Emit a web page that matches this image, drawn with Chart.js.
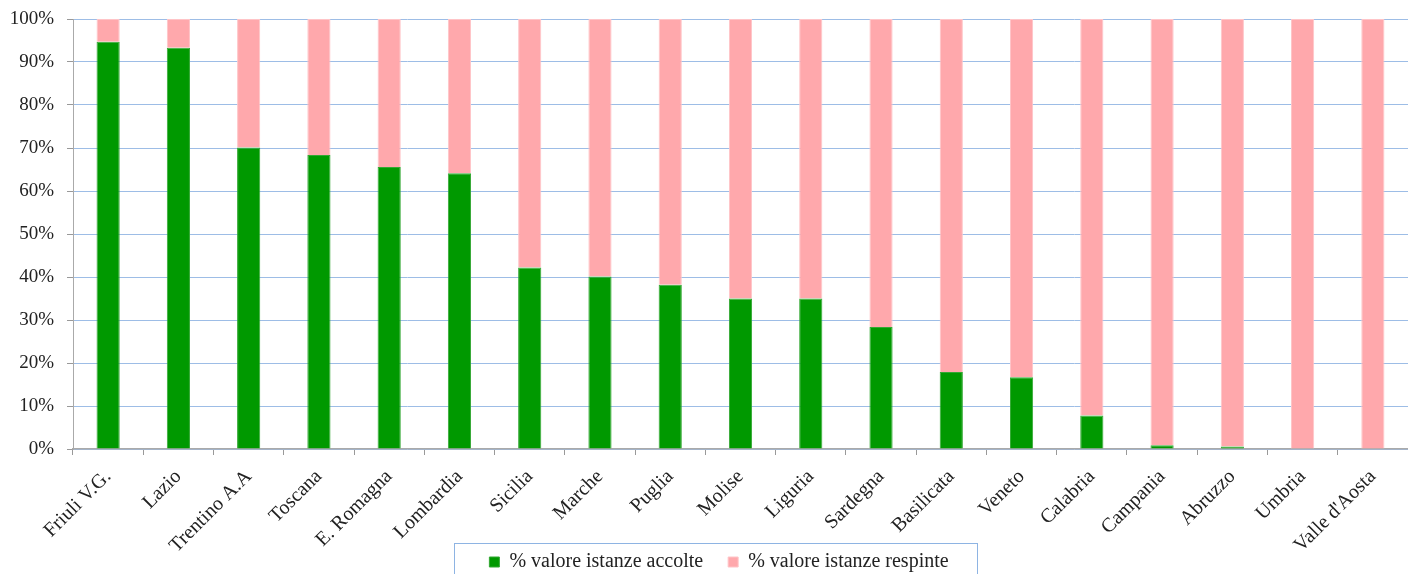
<!DOCTYPE html>
<html>
<head>
<meta charset="utf-8">
<script src="https://cdn.jsdelivr.net/npm/chart.js@4"></script>
<style>
  html, body { margin: 0; padding: 0; background: #fff; }
  #wrap { width: 1408px; height: 574px; }
</style>
</head>
<body>
<div id="wrap"><canvas id="chart" width="1408" height="574"></canvas></div>
<script>
const regioni = ['Friuli V.G.', 'Lazio', 'Trentino A.A', 'Toscana', 'E. Romagna', 'Lombardia',
  'Sicilia', 'Marche', 'Puglia', 'Molise', 'Liguria', 'Sardegna', 'Basilicata', 'Veneto',
  'Calabria', 'Campania', 'Abruzzo', 'Umbria', "Valle d'Aosta"]

const accolte  = [94.7, 93.3, 70.1, 68.4, 65.6, 64.1, 42.2, 40.1, 38.2, 35.0, 35.0, 28.4, 17.9, 16.7, 7.8, 0.9, 0.6, 0, 0]
const respinte = [5.3, 6.7, 29.9, 31.6, 34.4, 35.9, 57.8, 59.9, 61.8, 65.0, 65.0, 71.6, 82.1, 83.3, 92.2, 99.1, 99.4, 100, 100]

const serif = "'Liberation Serif', 'DejaVu Serif', serif"

// the rotated labels run down past the legend top, as in the original:
// let them draw to the bottom of the canvas and nudge the legend
const overlap = {
  id: 'overlap',
  afterLayout(chart) {
    const lg = chart.legend
    chart.scales.x.bottom = chart.height
    lg.top += 8
    lg.bottom += 8
    lg.left += 15
    lg.right += 15
  }
}

// box drawn around the legend entries
const legendBox = {
  id: 'legendBox',
  afterDraw(chart) {
    const boxes = chart.legend.legendHitBoxes
    if (!boxes || !boxes.length) return
    const left  = Math.min(...boxes.map(b => b.left)) - 35
    const right = Math.max(...boxes.map(b => b.left + b.width)) + 29
    const top   = boxes[0].top + boxes[0].height / 2 - 19
    const ctx = chart.ctx
    ctx.save()
    ctx.strokeStyle = '#8eb4e3'
    ctx.lineWidth = 1
    ctx.strokeRect(Math.round(left) + 0.5, Math.round(top) + 0.5, Math.round(right - left), 60)
    ctx.restore()
  }
}

new Chart(document.getElementById('chart'), {
  type: 'bar',
  data: {
    labels: regioni,
    datasets: [
      {
        label: '% valore istanze accolte',
        data: accolte,
        backgroundColor: '#009900',
        borderColor: '#33a833',
        borderWidth: 1,
        barPercentage: 0.33,
        categoryPercentage: 1
      },
      {
        label: '% valore istanze respinte',
        data: respinte,
        backgroundColor: '#ffa8ac',
        borderColor: '#ffc4c7',
        borderWidth: 1,
        barPercentage: 0.33,
        categoryPercentage: 1
      }
    ]
  },
  options: {
    responsive: false,
    animation: false,
    layout: { padding: { top: 19, right: 0, bottom: 0, left: 0 } },
    plugins: {
      tooltip: { enabled: false },
      legend: {
        position: 'bottom',
        labels: {
          font: { family: serif, size: 20 },
          color: '#222',
          boxWidth: 10,
          boxHeight: 10,
          padding: 25
        }
      }
    },
    scales: {
      x: {
        stacked: true,
        grid: {
          drawOnChartArea: false,
          drawTicks: true,
          tickLength: 6,
          tickColor: '#999',
          offset: true
        },
        border: { color: '#aaa', width: 1.5 },
        ticks: {
          font: { family: serif, size: 20 },
          color: '#222',
          maxRotation: 45,
          minRotation: 45,
          autoSkip: false,
          padding: 10
        },
        afterFit(scale) { scale.height = 70 }
      },
      y: {
        stacked: true,
        min: 0,
        max: 100,
        grid: {
          color: '#9dbde6',
          tickColor: '#999',
          tickLength: 6
        },
        border: { color: '#aaa', width: 1 },
        ticks: {
          stepSize: 10,
          font: { family: serif, size: 19 },
          color: '#222',
          padding: 13,
          callback: v => v + '%'
        },
        afterFit(scale) {
          scale.width = 73
          scale.paddingTop = 0
          scale.paddingBottom = 0
        }
      }
    }
  },
  plugins: [overlap, legendBox]
})
</script>
</body>
</html>
